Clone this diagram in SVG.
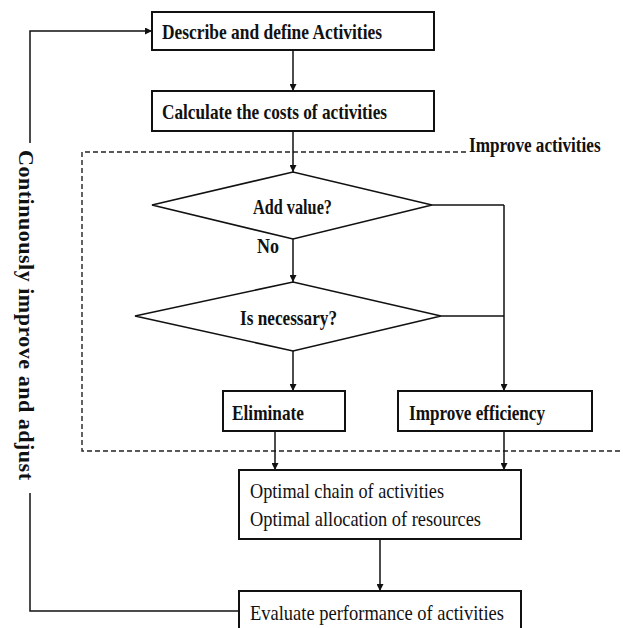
<svg xmlns="http://www.w3.org/2000/svg" width="623" height="628" viewBox="0 0 623 628">
<style>
.box{fill:#fff;stroke:#111;stroke-width:2}
.dia{fill:#fff;stroke:#111;stroke-width:1.6}
.ln{fill:none;stroke:#111;stroke-width:1.5}
.arr{fill:none;stroke:#111;stroke-width:1.5;marker-end:url(#ah)}
.dash{fill:none;stroke:#222;stroke-width:1.4;stroke-dasharray:5 3}
.t{font-family:"Liberation Serif","Times New Roman",serif;font-size:22px;fill:#111}
.b{font-weight:bold}
</style>
<defs>
<marker id="ah" viewBox="0 0 10 10" refX="10" refY="5" markerWidth="7" markerHeight="7" markerUnits="userSpaceOnUse" orient="auto">
<path d="M0,0 L10,5 L0,10 z" fill="#111"/>
</marker>
</defs>
<g id="region-improve">
<path class="dash" d="M466,152 H82 V451 H623"/>
<text class="t b" transform="translate(469,152) scale(0.78,1)" x="0" y="0">Improve activities</text>
</g>
<g id="connectors">
<path class="arr" d="M293,50 V91"/>
<path class="arr" d="M293,131 V172"/>
<path class="arr" d="M293,239 V282"/>
<path class="arr" d="M293,351 V391"/>
<path class="ln" d="M432,205 H504"/>
<path class="ln" d="M441,316 H504"/>
<path class="arr" d="M504,205 V391"/>
<path class="arr" d="M275,431 V470"/>
<path class="arr" d="M504,431 V470"/>
<path class="arr" d="M380,539 V591"/>
<path class="ln" d="M239,611 H30 V493"/>
<path class="arr" d="M30,143 V31 H152"/>
</g>
<g id="node-describe">
<rect class="box" x="152" y="12" width="282" height="38"/>
<text class="t b" x="162" y="39" textLength="220" lengthAdjust="spacingAndGlyphs">Describe and define Activities</text>
</g>
<g id="node-calculate">
<rect class="box" x="152" y="91" width="282" height="40"/>
<text class="t b" x="162" y="119" textLength="225" lengthAdjust="spacingAndGlyphs">Calculate the costs of activities</text>
</g>
<g id="node-addvalue">
<polygon class="dia" points="152,205 293,172 432,205 293,239"/>
<text class="t b" x="253" y="214" font-size="21" textLength="79" lengthAdjust="spacingAndGlyphs">Add value?</text>
</g>
<text class="t b" x="257" y="253" font-size="18" textLength="22" lengthAdjust="spacingAndGlyphs">No</text>
<g id="node-necessary">
<polygon class="dia" points="135,316 293,282 441,316 293,351"/>
<text class="t b" x="240" y="325" font-size="21" textLength="97" lengthAdjust="spacingAndGlyphs">Is necessary?</text>
</g>
<g id="node-eliminate">
<rect class="box" x="223" y="391" width="122" height="40"/>
<text class="t b" x="232" y="420" textLength="72" lengthAdjust="spacingAndGlyphs">Eliminate</text>
</g>
<g id="node-efficiency">
<rect class="box" x="398" y="391" width="194" height="40"/>
<text class="t b" x="409" y="420" textLength="136" lengthAdjust="spacingAndGlyphs">Improve efficiency</text>
</g>
<g id="node-optimal">
<rect class="box" x="239" y="470" width="282" height="69"/>
<text class="t" x="250" y="498" textLength="194" lengthAdjust="spacingAndGlyphs">Optimal chain of activities</text>
<text class="t" x="250" y="526" textLength="231" lengthAdjust="spacingAndGlyphs">Optimal allocation of resources</text>
</g>
<g id="node-evaluate">
<rect class="box" x="239" y="591" width="282" height="42"/>
<text class="t" x="250" y="620" textLength="254" lengthAdjust="spacingAndGlyphs">Evaluate performance of activities</text>
</g>
<g id="label-continuous">
<text class="t b" font-size="14" transform="translate(26,150) rotate(90)" dominant-baseline="central" textLength="330" lengthAdjust="spacing">Continuously improve and adjust</text>
</g>
</svg>
